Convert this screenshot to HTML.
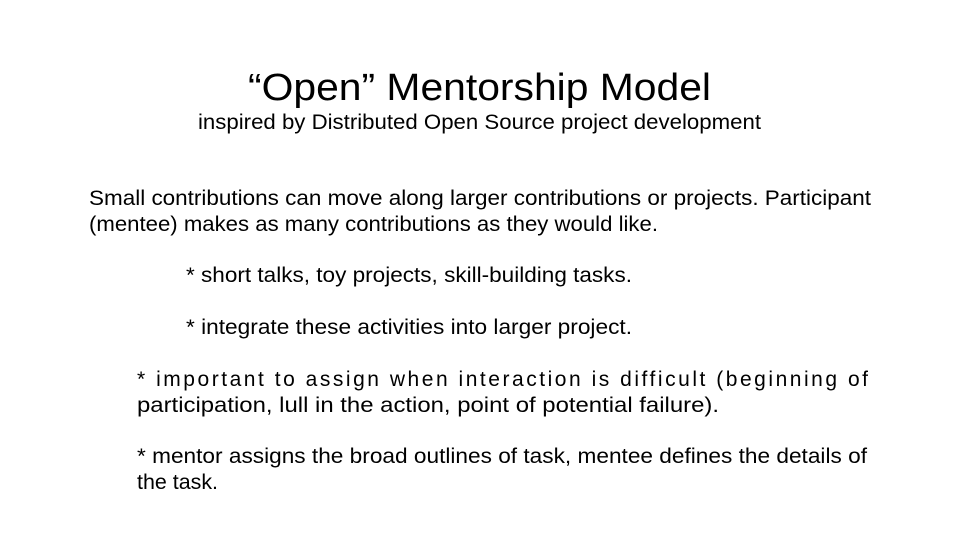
<!DOCTYPE html>
<html>
<head>
<meta charset="utf-8">
<style>
html,body{margin:0;padding:0;background:#fff;}
svg{display:block;}
text{font-family:"Liberation Sans",sans-serif;fill:#000;}
</style>
</head>
<body>
<svg width="960" height="540" viewBox="0 0 960 540">
<rect width="960" height="540" fill="#fff"/>
<text x="248" y="100" font-size="38" textLength="463" lengthAdjust="spacingAndGlyphs">“Open” Mentorship Model</text>
<text x="198" y="129" font-size="21" textLength="563" lengthAdjust="spacingAndGlyphs">inspired by Distributed Open Source project development</text>
<text x="89" y="205" font-size="21" textLength="782" lengthAdjust="spacingAndGlyphs">Small contributions can move along larger contributions or projects. Participant</text>
<text x="89" y="231" font-size="21" textLength="569" lengthAdjust="spacingAndGlyphs">(mentee) makes as many contributions as they would like.</text>
<text x="186" y="282" font-size="21" textLength="446" lengthAdjust="spacingAndGlyphs">* short talks, toy projects, skill-building tasks.</text>
<text x="186" y="334" font-size="21" textLength="446" lengthAdjust="spacingAndGlyphs">* integrate these activities into larger project.</text>
<text x="137" y="386" font-size="21" textLength="731" lengthAdjust="spacing">* important to assign when interaction is difficult (beginning of</text>
<text x="137" y="412" font-size="21" textLength="582" lengthAdjust="spacingAndGlyphs">participation, lull in the action, point of potential failure).</text>
<text x="137" y="463" font-size="21" textLength="730" lengthAdjust="spacingAndGlyphs">* mentor assigns the broad outlines of task, mentee defines the details of</text>
<text x="137" y="489" font-size="21" textLength="81" lengthAdjust="spacingAndGlyphs">the task.</text>
</svg>
</body>
</html>
